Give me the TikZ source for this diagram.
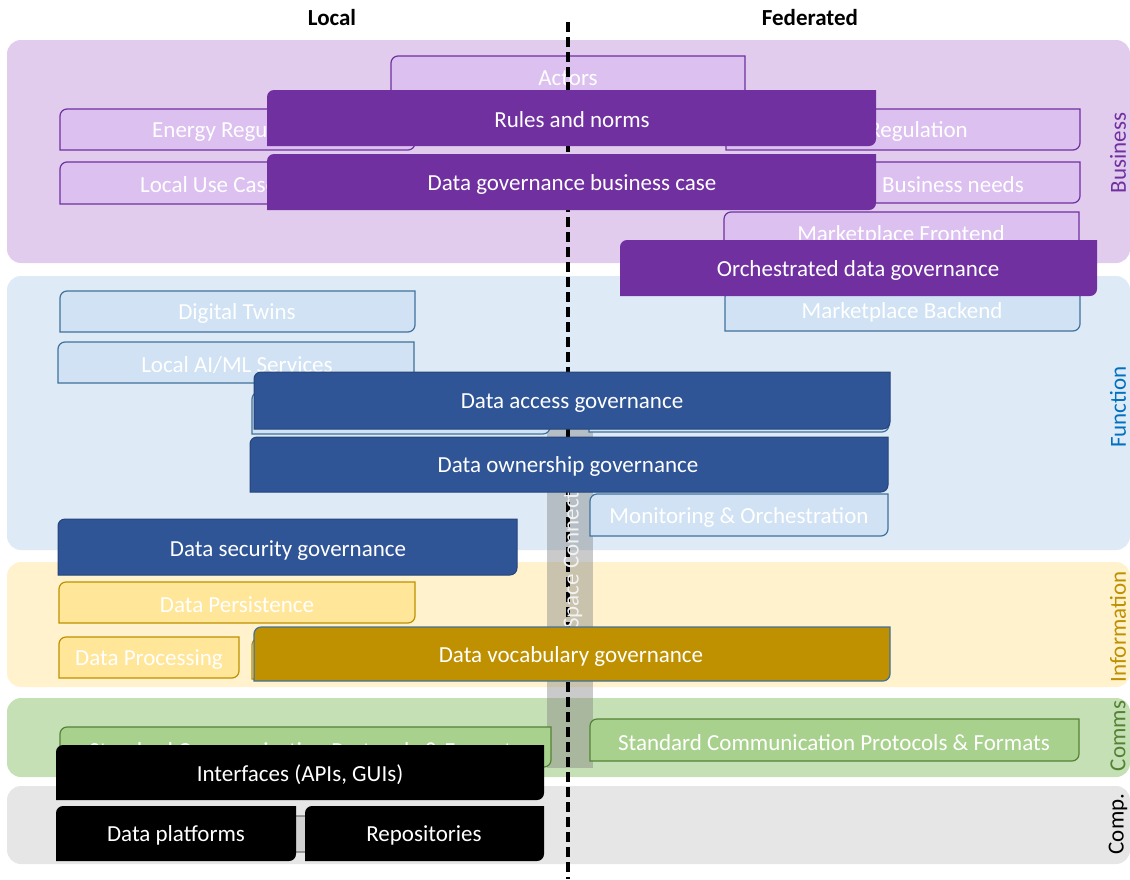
\documentclass[tikz,border=0pt]{standalone}
\usepackage{fontspec}
\setmainfont{Carlito}
\definecolor{bizbg}{HTML}{E1CCEE}
\definecolor{bizlt}{HTML}{DCC0F0}
\definecolor{purp}{HTML}{7030A0}
\definecolor{funbg}{HTML}{DEEBF7}
\definecolor{funlt}{HTML}{D0E2F3}
\definecolor{funbd}{HTML}{41719C}
\definecolor{dblue}{HTML}{2F5597}
\definecolor{funlab}{HTML}{0070C0}
\definecolor{infbg}{HTML}{FFF2CC}
\definecolor{inflt}{HTML}{FFE699}
\definecolor{gold}{HTML}{BF9000}
\definecolor{combg}{HTML}{C5E0B4}
\definecolor{comlt}{HTML}{A9D18E}
\definecolor{combd}{HTML}{548235}
\definecolor{cmpbg}{HTML}{E6E6E6}
\newcommand\fs{\fontsize{23}{27}\selectfont}
% diagonal-rounded box: style, x1, y1, x2, y2 (pixels, y downward)
\newcommand\dshape[5]{\path[#1] (#2,-#5) -- (#2,{-#3-7}) arc[start angle=180,end angle=90,radius=7pt] -- (#4,-#3) -- (#4,{-#5+7}) arc[start angle=0,end angle=-90,radius=7pt] -- cycle;}
\tikzset{
  bg/.style={rounded corners=14pt},
  bizl/.style={fill=bizlt, draw=purp, line width=1.2pt},
  funl/.style={fill=funlt, draw=funbd, line width=1.2pt},
  infl/.style={fill=inflt, draw=gold, line width=1.2pt},
  coml/.style={fill=comlt, draw=combd, line width=1.2pt},
  cmpl/.style={fill=black!18, draw=black!55, line width=1.2pt},
  bizd/.style={fill=purp},
  blued/.style={fill=dblue, draw=dblue!80!black, line width=1pt},
  goldd/.style={fill=gold, draw=funbd, line width=1.2pt},
  blackd/.style={fill=black},
  lt/.style={text=white, font=\fs, inner sep=0pt, yshift=-1.5pt},
  dk/.style={text=white, font=\fs, inner sep=0pt, yshift=-1.5pt},
  side/.style={rotate=90, font=\fs, inner sep=0pt},
  head/.style={font=\fs\bfseries, inner sep=0pt},
  divider/.style={line width=3.5pt, dash pattern=on 10pt off 5pt}
}
\begin{document}
\begin{tikzpicture}[x=1pt,y=1pt]
\useasboundingbox (0,0) rectangle (1130,-879);
% layer backgrounds
\fill[bg, bizbg] (7,-40) rectangle (1130,-263);
\fill[bg, funbg] (7,-276) rectangle (1130,-550);
\fill[bg, infbg] (7,-562) rectangle (1130,-687);
\fill[bg, combg] (7,-698) rectangle (1130,-777);
\fill[bg, cmpbg] (7,-786) rectangle (1130,-864);
% space connector bar
\node[fill=gray, fill opacity=0.42, minimum width=46pt, minimum height=384pt, inner sep=0pt] (bar) at (570,-576) {};
% business light boxes
\dshape{bizl}{391}{56}{745}{100}
\node[lt] (actors) at (568,-77) {Actors};
\dshape{bizl}{60}{109}{415}{150}
\node[lt, anchor=west] (enreg) at (152,-130) {Energy Regulation};
\dshape{bizl}{726}{109}{1080}{150}
\node[lt, anchor=east] (reg) at (968,-130) {Regulation};
\dshape{bizl}{60}{162}{415}{204}
\node[lt, anchor=west] (luc) at (140,-183) {Local Use Cases};
\dshape{bizl}{726}{162}{1080}{203}
\node[lt, anchor=east] (bneeds) at (1024,-183) {Business needs};
\dshape{bizl}{724}{212}{1079}{254}
\node[lt] (mfront) at (901,-234) {Marketplace Frontend};
% function light boxes
\dshape{funl}{60}{291}{415}{332}
\node[lt] (dtwin) at (237,-312) {Digital Twins};
\dshape{funl}{58}{342}{414}{383}
\node[lt] (aiml) at (237,-363) {Local AI/ML Services};
\dshape{funl}{725}{290}{1080}{331}
\node[lt] (mback) at (902,-311) {Marketplace Backend};
\dshape{funl}{252}{392}{550}{434}
\dshape{funl}{589}{392}{889}{432}
\dshape{funl}{590}{494}{888}{536}
\node[lt] (monit) at (739,-516) {Monitoring \& Orchestration};
% information light boxes
\dshape{infl}{59}{582}{415}{623}
\node[lt] (persist) at (237,-603) {Data Persistence};
\dshape{infl}{59}{637}{239}{678}
\node[lt] (process) at (149,-658) {Data Processing};
\dshape{infl}{252}{638}{550}{679}
% comms light boxes
\dshape{coml}{60}{727}{551}{767}
\node[lt] (comml) at (305,-749) {Standard Communication Protocols \& Formats};
\dshape{coml}{590}{719}{1079}{761}
\node[lt] (commr) at (834,-741) {Standard Communication Protocols \& Formats};
% comp hidden box
\dshape{cmpl}{200}{816}{400}{852}
% divider
\coordinate (dtop) at (568,-22);
\coordinate (dbot) at (568,-879);
\draw[divider] (dtop) -- (dbot);
\node[side, text=white!90!gray] (sc) at (573,-560) {Space Connect};
% dark governance boxes
\dshape{bizd}{267}{90}{876}{146}
\node[dk] (rules) at (572,-118) {Rules and norms};
\dshape{bizd}{267}{154}{876}{210}
\node[dk] (dgbc) at (572,-183) {Data governance business case};
\dshape{bizd}{620}{240}{1097}{296}
\node[dk] (orch) at (858,-269) {Orchestrated data governance};
\dshape{blued}{254}{372}{890}{429}
\node[dk] (access) at (572,-402) {Data access governance};
\dshape{blued}{250}{437}{888}{492}
\node[dk] (owner) at (568,-465) {Data ownership governance};
\dshape{blued}{58}{519}{517}{575}
\node[dk] (secur) at (288,-549) {Data security governance};
\dshape{goldd}{254}{627}{890}{681}
\node[dk] (vocab) at (571,-655) {Data vocabulary governance};
\dshape{blackd}{56}{745}{544}{800}
\node[dk] (iface) at (300,-773) {Interfaces (APIs, GUIs)};
\dshape{blackd}{56}{806}{296}{861}
\node[dk] (dplat) at (176,-834) {Data platforms};
\dshape{blackd}{305}{806}{544}{861}
\node[dk] (repo) at (424,-834) {Repositories};
% side labels
\node[side, text=purp] (lbiz) at (1118,-153) {Business};
\node[side, text=funlab] (lfun) at (1118,-407) {Function};
\node[side, text=gold] (linf) at (1118,-627) {Information};
\node[side, text=combd] (lcom) at (1118,-736) {Comms};
\node[side, text=black] (lcmp) at (1118,-824) {Comp.};
% headers
\node[head] (hlocal) at (332,-18) {Local};
\node[head] (hfed) at (810,-18) {Federated};
\end{tikzpicture}
\end{document}
